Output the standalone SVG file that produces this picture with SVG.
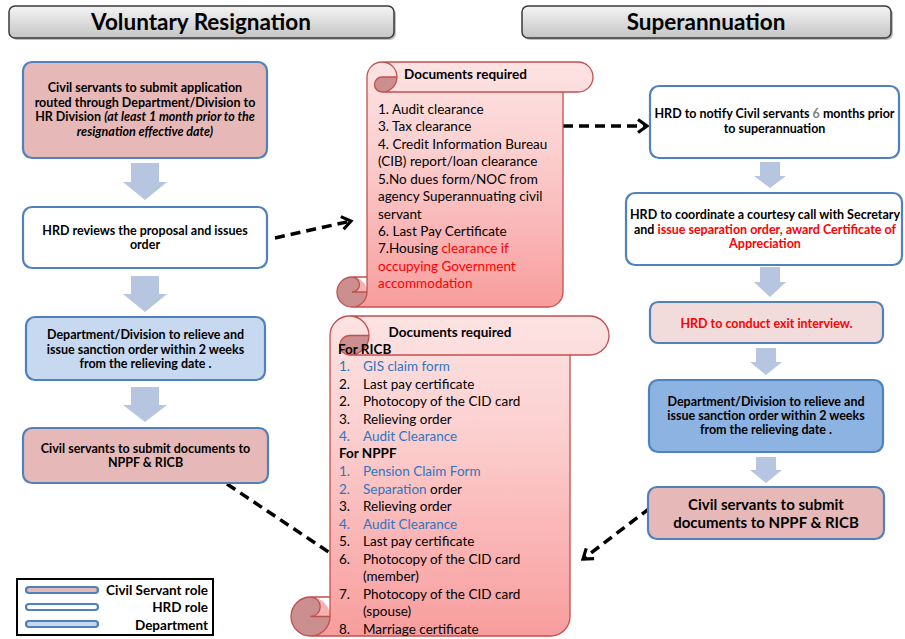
<svg xmlns="http://www.w3.org/2000/svg" width="905" height="639" viewBox="0 0 905 639">
  <defs>
    <linearGradient id="hdrGrad" x1="0" y1="0" x2="0" y2="1">
      <stop offset="0" stop-color="#f4f4f4"/>
      <stop offset="1" stop-color="#c4c4c4"/>
    </linearGradient>
    <linearGradient id="scrollGrad" x1="0" y1="0" x2="0" y2="1">
      <stop offset="0" stop-color="#fde3e3"/>
      <stop offset="0.35" stop-color="#fcd0d0"/>
      <stop offset="1" stop-color="#f89d9d"/>
    </linearGradient>
    <marker id="chev" markerWidth="16" markerHeight="16" refX="11" refY="8" orient="auto" markerUnits="userSpaceOnUse">
      <path d="M2,1.5 L11,8 L2,14.5" fill="none" stroke="#000" stroke-width="3.2"/>
    </marker>
  </defs>
  <style>
    text { font-family: Lato, "Liberation Sans", Arial, sans-serif; fill: #000; }
    .hdr { fill: url(#hdrGrad); stroke: #3a3a3a; stroke-width: 1.5; }
    .shadow { fill: #000; opacity: 0.25; }
    .htxt { font-size: 22.5px; font-weight: bold; text-anchor: middle; }
    .box { stroke: #4f81bd; stroke-width: 2.2; }
    .cs { fill: #e6b9b8; }
    .hr { fill: #ffffff; }
    .dep { fill: #c6d9f1; }
    .dep2 { fill: #8db3e2; }
    .exit { fill: #f2dcdb; }
    .btxt { font-size: 12.5px; font-weight: bold; text-anchor: middle; }
    .big { font-size: 15px; }
    .red { fill: #ff0000; }
    .blue { fill: #2e75c0; }
    .grey { fill: #808080; }
    .it { font-style: italic; }
    .barrow { fill: #b7c6e0; }
    .dash { fill: none; stroke: #000; stroke-width: 3.5; stroke-dasharray: 10 6; }
    .scroll { fill: url(#scrollGrad); }
    .curl { fill: #cb8f8f; }
    .rolllight { fill: #f6b1b1; }
    .sline { fill: none; stroke: #c0504d; stroke-width: 1.3; }
    .stxt { font-size: 13.5px; }
    .b { font-weight: bold; }
    .legend { fill: #fff; stroke: #000; stroke-width: 2; }
    .ltxt { font-size: 13.5px; font-weight: bold; text-anchor: end; }
  </style>

  <!-- column headings -->
  <g id="hdr-voluntary">
    <rect class="shadow" x="11" y="8" width="385" height="32" rx="6"/>
    <rect class="hdr" x="9" y="6" width="385" height="32" rx="6"/>
    <text class="htxt" x="201" y="30">Voluntary Resignation</text>
  </g>
  <g id="hdr-superannuation">
    <rect class="shadow" x="524" y="8" width="369" height="32" rx="6"/>
    <rect class="hdr" x="522" y="6" width="369" height="32" rx="6"/>
    <text class="htxt" x="706" y="30">Superannuation</text>
  </g>

  <!-- connectors -->
  <g id="connectors">
    <!-- block arrows, left column -->
    <path class="barrow" d="M131,163 H159 V182 H167 L145,200 L123,182 H131 Z"/>
    <path class="barrow" d="M131,276 H159 V294 H167 L145,312 L123,294 H131 Z"/>
    <path class="barrow" d="M131,387 H159 V405 H167 L145,422 L123,405 H131 Z"/>
    <!-- block arrows, right column -->
    <path class="barrow" d="M760,162 H780 V176 H786 L770,188 L754,176 H760 Z"/>
    <path class="barrow" d="M760,267 H780 V282 H786 L770,297 L754,282 H760 Z"/>
    <path class="barrow" d="M756,348 H776 V362 H782 L766,375 L750,362 H756 Z"/>
    <path class="barrow" d="M756,457 H776 V470 H782 L766,483 L750,470 H756 Z"/>
    <!-- dashed links -->
    <line class="dash" x1="275" y1="238" x2="351" y2="221" marker-end="url(#chev)"/>
    <line class="dash" x1="563" y1="126" x2="647" y2="126" marker-end="url(#chev)"/>
    <line class="dash" x1="650" y1="508" x2="583" y2="559" marker-end="url(#chev)"/>
    <line class="dash" x1="227" y1="484" x2="336" y2="557"/>
  </g>

  <!-- voluntary resignation steps -->
  <g id="vr-apply">
    <rect class="box cs" x="23" y="62" width="244" height="96" rx="9"/>
    <text class="btxt" x="145" y="92">Civil servants to submit application</text>
    <text class="btxt" x="145" y="107">routed through Department/Division to</text>
    <text class="btxt" x="145" y="121">HR Division <tspan class="it">(at least 1 month prior to the</tspan></text>
    <text class="btxt it" x="145" y="136">resignation effective date)</text>
  </g>
  <g id="vr-review">
    <rect class="box hr" x="23" y="207" width="244" height="61" rx="9"/>
    <text class="btxt" x="145" y="235">HRD reviews the proposal and issues</text>
    <text class="btxt" x="145" y="249">order</text>
  </g>
  <g id="vr-relieve">
    <rect class="box dep" x="26" y="317" width="239" height="63" rx="9"/>
    <text class="btxt" x="145.5" y="339">Department/Division to relieve and</text>
    <text class="btxt" x="145.5" y="354">issue sanction order within 2 weeks</text>
    <text class="btxt" x="145.5" y="368">from the relieving date .</text>
  </g>
  <g id="vr-submit">
    <rect class="box cs" x="23" y="428" width="245" height="55" rx="9"/>
    <text class="btxt" x="145.5" y="453">Civil servants to submit documents to</text>
    <text class="btxt" x="145.5" y="467">NPPF &amp; RICB</text>
  </g>

  <!-- superannuation steps -->
  <g id="sa-notify">
    <rect class="box hr" x="650" y="86" width="249" height="72" rx="9"/>
    <text class="btxt" x="774.5" y="118">HRD to notify Civil servants <tspan class="grey">6</tspan> months prior</text>
    <text class="btxt" x="774.5" y="133">to superannuation</text>
  </g>
  <g id="sa-courtesy">
    <rect class="box hr" x="626" y="193" width="276" height="72" rx="9"/>
    <text class="btxt" x="765" y="219">HRD to coordinate a courtesy call with Secretary</text>
    <text class="btxt" x="765" y="234">and  <tspan class="red">issue separation order, award Certificate of</tspan></text>
    <text class="btxt red" x="765" y="248">Appreciation</text>
  </g>
  <g id="sa-exit">
    <rect class="box exit" x="650" y="302" width="233" height="41" rx="8"/>
    <text class="btxt red" x="766.5" y="328">HRD to conduct exit interview.</text>
  </g>
  <g id="sa-relieve">
    <rect class="box dep2" x="649" y="380" width="234" height="72" rx="9"/>
    <text class="btxt" x="766" y="406">Department/Division to relieve and</text>
    <text class="btxt" x="766" y="420">issue sanction order within 2 weeks</text>
    <text class="btxt" x="766" y="434">from the relieving date .</text>
  </g>
  <g id="sa-submit">
    <rect class="box cs" x="648" y="487" width="236" height="52" rx="9"/>
    <text class="btxt big" x="766" y="510">Civil servants to submit</text>
    <text class="btxt big" x="766" y="528">documents to NPPF &amp; RICB</text>
  </g>

  <!-- documents list for voluntary resignation / superannuation -->
  <g id="docs-general">
    <path class="scroll" d="M352,307 A15,15 0 0 0 367,292 L367,77 A15,15 0 0 1 382,62 L578,62 A15,15 0 0 1 578,92 L563,92 L563,292 A15,15 0 0 1 548,307 Z"/>
    <path class="curl" d="M397,77 A15,15 0 0 1 382,92 A7.5,7.5 0 0 1 382,77 Z"/>
    <circle class="rolllight" cx="352" cy="292" r="15"/>
    <path class="curl" d="M367,292 A15,15 0 0 1 352,307 A15,15 0 0 1 352,277 A7.5,7.5 0 0 1 352,292 Z"/>
    <path class="sline" d="M367,277 L367,77 A15,15 0 0 1 382,62 L578,62 A15,15 0 0 1 578,92 L563,92 L563,292 A15,15 0 0 1 548,307 L352,307 A15,15 0 0 1 352,277 Z M382,62 A15,15 0 0 1 382,92 A7.5,7.5 0 0 1 382,77 L397,77 M563,92 L382,92 M352,277 A7.5,7.5 0 0 1 352,292 L367,292 M352,307 A15,15 0 0 0 367,292 L367,277"/>
    <text class="stxt b" x="404" y="79">Documents required</text>
    <text class="stxt" x="378" y="114">1. Audit clearance</text>
    <text class="stxt" x="378" y="131">3. Tax clearance</text>
    <text class="stxt" x="378" y="149">4. Credit Information Bureau</text>
    <text class="stxt" x="378" y="166">(CIB) report/loan clearance</text>
    <text class="stxt" x="378" y="184">5.No dues form/NOC from</text>
    <text class="stxt" x="378" y="201">agency Superannuating civil</text>
    <text class="stxt" x="378" y="219">servant</text>
    <text class="stxt" x="378" y="236">6. Last Pay Certificate</text>
    <text class="stxt" x="378" y="253">7.Housing <tspan class="red">clearance if</tspan></text>
    <text class="stxt red" x="378" y="271">occupying Government</text>
    <text class="stxt red" x="378" y="288">accommodation</text>
  </g>

  <!-- documents list for RICB and NPPF -->
  <g id="docs-ricb-nppf">
    <path class="scroll" d="M310.5,636 A19.5,19.5 0 0 0 330,616.5 L330,335.5 A19.5,19.5 0 0 1 349.5,316 L589.5,316 A19.5,19.5 0 0 1 589.5,355 L570,355 L570,616.5 A19.5,19.5 0 0 1 550.5,636 Z"/>
    <path class="curl" d="M369,335.5 A19.5,19.5 0 0 1 349.5,355 A9.75,9.75 0 0 1 349.5,335.5 Z"/>
    <circle class="rolllight" cx="310.5" cy="616.5" r="19.5"/>
    <path class="curl" d="M330,616.5 A19.5,19.5 0 0 1 310.5,636 A19.5,19.5 0 0 1 310.5,597 A9.75,9.75 0 0 1 310.5,616.5 Z"/>
    <path class="sline" d="M330,597 L330,335.5 A19.5,19.5 0 0 1 349.5,316 L589.5,316 A19.5,19.5 0 0 1 589.5,355 L570,355 L570,616.5 A19.5,19.5 0 0 1 550.5,636 L310.5,636 A19.5,19.5 0 0 1 310.5,597 Z M349.5,316 A19.5,19.5 0 0 1 349.5,355 A9.75,9.75 0 0 1 349.5,335.5 L369,335.5 M570,355 L349.5,355 M310.5,597 A9.75,9.75 0 0 1 310.5,616.5 L330,616.5 M310.5,636 A19.5,19.5 0 0 0 330,616.5 L330,597"/>
    <text class="stxt b" x="450" y="337" text-anchor="middle">Documents required</text>
    <text class="stxt b" x="338" y="354">For RICB</text>
    <text class="stxt blue" x="339" y="371">1.</text><text class="stxt blue" x="363" y="371">GIS claim form</text>
    <text class="stxt" x="339" y="389">2.</text><text class="stxt" x="363" y="389">Last pay certificate</text>
    <text class="stxt" x="339" y="406">2.</text><text class="stxt" x="363" y="406">Photocopy of the CID card</text>
    <text class="stxt" x="339" y="424">3.</text><text class="stxt" x="363" y="424">Relieving order</text>
    <text class="stxt blue" x="339" y="441">4.</text><text class="stxt blue" x="363" y="441">Audit Clearance</text>
    <text class="stxt b" x="339" y="458">For NPPF</text>
    <text class="stxt blue" x="339" y="476">1.</text><text class="stxt blue" x="363" y="476">Pension Claim Form</text>
    <text class="stxt blue" x="339" y="494">2.</text><text class="stxt" x="363" y="494"><tspan class="blue">Separation</tspan> order</text>
    <text class="stxt" x="339" y="511">3.</text><text class="stxt" x="363" y="511">Relieving order</text>
    <text class="stxt blue" x="339" y="529">4.</text><text class="stxt blue" x="363" y="529">Audit Clearance</text>
    <text class="stxt" x="339" y="546">5.</text><text class="stxt" x="363" y="546">Last pay certificate</text>
    <text class="stxt" x="339" y="564">6.</text><text class="stxt" x="363" y="564">Photocopy of the CID card</text>
    <text class="stxt" x="363" y="581">(member)</text>
    <text class="stxt" x="339" y="599">7.</text><text class="stxt" x="363" y="599">Photocopy of the CID card</text>
    <text class="stxt" x="363" y="616">(spouse)</text>
    <text class="stxt" x="339" y="634">8.</text><text class="stxt" x="363" y="634">Marriage certificate</text>
  </g>

  <!-- legend -->
  <g id="legend">
    <rect class="legend" x="17" y="579" width="196" height="56"/>
    <rect class="box cs" x="26" y="587" width="72" height="6" rx="3" stroke-width="2"/>
    <rect class="box hr" x="26" y="604" width="72" height="6" rx="3" stroke-width="2"/>
    <rect class="box dep" x="26" y="621" width="72" height="6" rx="3" stroke-width="2"/>
    <text class="ltxt" x="208" y="595">Civil Servant role</text>
    <text class="ltxt" x="208" y="612">HRD role</text>
    <text class="ltxt" x="208" y="630">Department</text>
  </g>
</svg>
